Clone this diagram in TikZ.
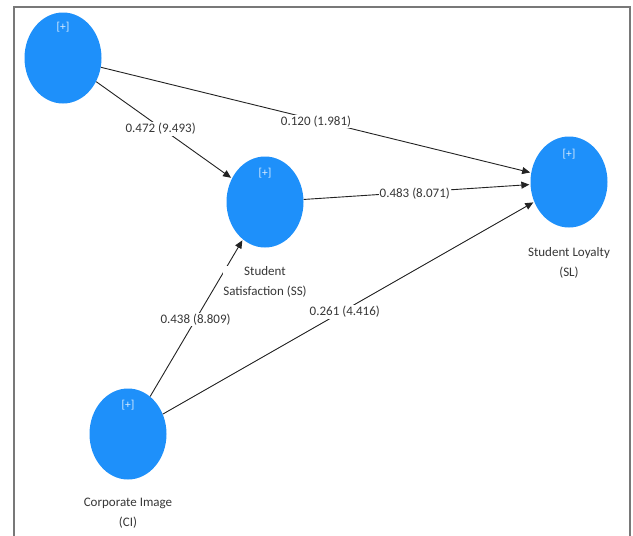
\documentclass[tikz,border=0pt]{standalone}
\usepackage{fontspec}
\setmainfont{Carlito}
\usetikzlibrary{arrows.meta,shapes.geometric}
\definecolor{lvblue}{RGB}{30,144,250}
\definecolor{framegray}{RGB}{120,120,120}
\definecolor{linegray}{RGB}{35,35,35}
\definecolor{txtgray}{RGB}{55,55,55}
\begin{document}
\begin{tikzpicture}[x=1pt,y=-1pt,
  lv/.style={ellipse, fill=lvblue, draw=none, minimum width=77pt, minimum height=91pt, inner sep=0pt},
  plus/.style={text=white!85!lvblue, font=\fontsize{11.5}{11.5}\selectfont},
  nlabel/.style={text=txtgray, font=\fontsize{13}{20}\selectfont, align=center, fill=white, inner sep=0.5pt},
  path/.style={draw=linegray, line width=0.9pt, -{Triangle[length=8pt,width=7pt]}, shorten >=1pt},
  coef/.style={fill=white, text=txtgray, font=\fontsize{13}{13}\selectfont, inner sep=1pt}]
\useasboundingbox (0,0) rectangle (633,536);
\fill[white] (0,0) rectangle (633,536);
\draw[framegray, line width=2pt] (14,536) -- (14,7) -- (630,7) -- (630,536);

\node[lv] (TL) at (63,58) {};
\node[lv] (SS) at (265,202) {};
\node[lv] (SL) at (569,182) {};
\node[lv] (CI) at (128,434) {};

\node[plus] (pTL) at (63,27) {[+]};
\node[plus] (pSS) at (265,173) {[+]};
\node[plus] (pSL) at (569,154) {[+]};
\node[plus] (pCI) at (128,405) {[+]};

\draw[path] (TL) -- node[coef, pos=0.5, yshift=-1.5pt] (c1) {0.120 (1.981)} (SL);
\draw[path] (TL) -- node[coef, pos=0.49, xshift=-2pt] (c2) {0.472 (9.493)} (SS);
\draw[path] (SS) -- node[coef, pos=0.49, yshift=-1.5pt] (c3) {0.483 (8.071)} (SL);
\draw[path] (CI) -- node[coef, pos=0.49] (c4) {0.438 (8.809)} (SS);
\draw[path] (CI) -- node[coef, pos=0.49, yshift=-2pt] (c5) {0.261 (4.416)} (SL);

\node[nlabel] (lSS) at (265,282) {Student\\Satisfaction (SS)};
\node[nlabel] (lSL) at (569,262.5) {Student Loyalty\\(SL)};
\node[nlabel] (lCI) at (128,513) {Corporate Image\\(CI)};
\end{tikzpicture}
\end{document}
